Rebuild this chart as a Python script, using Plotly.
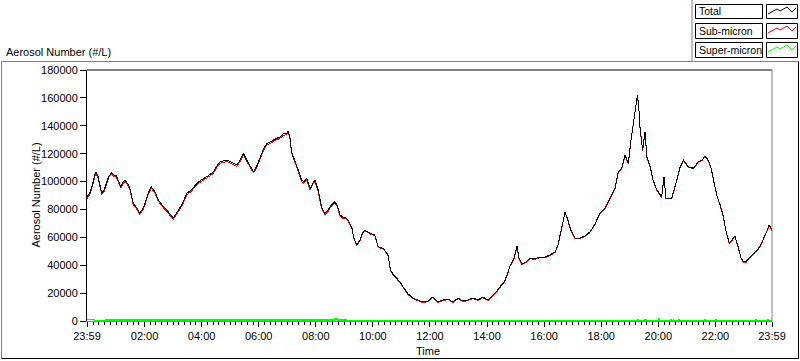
import plotly.graph_objects as go
import pandas as pd

# ---------------- data ----------------
# minutes elapsed since 23:59 of the start day
minutes = [0,6,13,18,23,27,31,36,42,46,
           52,57,61,65,71,76,80,86,90,97,
           105,111,118,122,128,135,143,150,158,168,
           175,181,187,192,200,210,219,231,240,252,
           259,266,273,280,294,303,315,322,329,336,
           343,350,357,364,370,378,385,392,399,406,
           412,420,423,427,430,437,444,451,456,462,
           469,475,479,486,493,500,507,511,521,526,
           532,538,546,551,557,561,567,574,578,584,
           595,605,612,623,629,633,638,644,651,658,
           666,675,685,696,706,717,727,738,748,759,
           769,780,790,801,811,822,832,843,851,860,
           868,877,883,889,898,904,908,914,923,931,
           942,952,963,973,984,990,996,1001,1005,1011,
           1017,1026,1036,1047,1057,1068,1078,1089,1099,1110,
           1117,1124,1131,1138,1143,1147,1152,1157,1160,1162,
           1168,1173,1177,1184,1190,1198,1208,1213,1217,1229,
           1236,1247,1254,1264,1275,1285,1293,1299,1306,1312,
           1318,1324,1331,1337,1343,1350,1356,1362,1369,1375,
           1380,1385,1392,1398,1404,1411,1417,1423,1430,1434,
           1438,1440]

total = [88900,91800,99700,107000,104000,96800,91600,93900,99700,104000,
         106300,104700,104700,101100,96300,99700,101100,98300,95400,84600,
         81000,77400,81000,84600,91100,96300,92700,86800,83200,79600,
         76700,73900,76700,79600,83900,91600,93900,98700,101100,103500,
         105400,107000,111100,114200,115400,114000,111900,115400,120200,115400,
         110600,107000,111100,116700,122600,127400,128300,129800,131200,132100,
         134100,134600,136200,131200,121400,115400,108300,101100,99700,102300,
         95100,98900,101100,93900,82000,77200,79600,82000,85500,83200,
         76000,74600,73600,71000,66500,59500,54500,58100,62400,65200,
         62900,61700,53300,52100,49500,47300,36600,33000,30600,28000,
         23700,19400,16500,15100,13600,14300,17200,13600,15100,15800,
         13600,16500,14300,15100,16500,15100,17200,15100,17900,20800,
         24400,28000,33000,39400,45200,53800,45200,40900,42300,45200,
         44500,45900,45900,47300,49500,54500,63800,71000,78200,72400,
         65200,59500,59500,60900,63800,69500,77400,81000,88000,95100,
         107000,109500,119000,113100,128600,139300,148900,162000,153700,140500,
         122600,135700,117800,110600,101100,93900,89100,103500,88200,88000,
         96300,110600,115400,110600,109500,114200,115400,118300,115400,109700,
         99700,90300,83200,76000,65200,55900,58100,60900,53100,45200,
         42500,42300,45200,47300,49700,51600,55200,59500,65200,68800,
         66000,65200]

sub_micron = [87900,90800,98700,106000,103000,95800,90600,92900,98700,103000,
              105300,103700,103700,100100,95300,98700,100100,97300,94400,83600,
              80000,76400,80000,83600,90100,95300,91700,85800,82200,78600,
              75700,72900,75700,78600,82900,90600,92900,97700,100100,102500,
              104400,106000,110100,113200,114400,113000,110900,114400,119200,114400,
              109600,106000,110100,115700,121600,126400,127300,128800,130200,131100,
              133100,133600,135200,130200,120400,114400,107300,100100,98700,101300,
              94100,97900,100100,92900,81000,76200,78600,81000,84500,82200,
              75000,73600,73200,70600,66100,59100,54100,57700,62000,64800,
              62500,61300,52900,51700,49100,46900,36200,32600,30200,27600,
              23300,19000,16100,14700,13200,13900,16800,13200,14700,15400,
              13200,16100,13900,14700,16100,14700,16800,14700,17500,20400,
              24000,27600,32600,39000,44800,53400,44800,40500,41900,44800,
              44100,45500,45500,46900,49100,54100,63400,70600,77800,72000,
              64800,59100,59100,60500,63400,69100,77000,80600,87600,94700,
              106600,109100,118600,112700,128200,138900,148500,161600,153300,140100,
              122200,135300,117400,110200,100700,93500,88700,103100,87800,87600,
              95900,110200,115000,110200,109100,113800,115000,117900,115000,109300,
              99300,89900,82800,75600,64800,55500,57700,60500,52700,44800,
              42100,41900,44800,46900,49300,51200,54800,59100,64800,68400,
              65600,64800]

super_minutes = [0,16,17,38,39,520,521,526,527,545,546,
                 1158,1159,1160,1171,1172,1173,1175,1176,1177,1202,1203,1204,
                 1227,1228,1229,1232,1233,1234,1244,1245,1246,1299,1300,1301,
                 1321,1322,1323,1406,1407,1408,1431,1432,1433,1440]
super_micron = [1000,1000,100,100,800,800,1400,1400,800,800,200,
                200,1300,200,200,1300,200,200,1300,200,200,2000,200,
                200,1300,200,200,1300,200,200,1300,200,200,1300,200,
                200,1300,200,200,1300,200,200,1600,200,200]

tick_labels = ["23:59", "02:00", "04:00", "06:00", "08:00", "10:00", "12:00",
               "14:00", "16:00", "18:00", "20:00", "22:00", "23:59"]
y_ticks = [0, 20000, 40000, 60000, 80000, 100000, 120000, 140000, 160000, 180000]

series_names = ["Total", "Sub-micron", "Super-micron"]
series_colors = ["#000000", "#ff0000", "#00ff00"]

# ---------------- build ----------------
BASE = pd.Timestamp("2020-01-01 23:59")
def to_time(ms):
    return [BASE + pd.Timedelta(minutes=m) for m in ms]

END = BASE + pd.Timedelta(minutes=1440)
tick_vals = [BASE] + [pd.Timestamp(f"2020-01-02 {h:02d}:00") for h in range(2, 24, 2)] + [END]

FONT = "Liberation Sans, Arial, sans-serif"

fig = go.Figure()
fig.add_trace(go.Scatter(x=to_time(super_minutes), y=super_micron, mode="lines",
                         line=dict(color=series_colors[2], width=1.6), name=series_names[2]))
fig.add_trace(go.Scatter(x=to_time(minutes), y=sub_micron, mode="lines",
                         line=dict(color=series_colors[1], width=1), name=series_names[1]))
fig.add_trace(go.Scatter(x=to_time(minutes), y=total, mode="lines",
                         line=dict(color=series_colors[0], width=1), name=series_names[0]))

W, H = 800, 361
L, R, T, B = 87, 772, 70, 321

def px(x):
    return (x - L) / (R - L)

def py(y):
    return (B - y) / (B - T)

def line(x0, y0, x1, y1, color):
    return dict(type="line", xref="paper", yref="paper",
                x0=px(x0), y0=py(y0), x1=px(x1), y1=py(y1),
                line=dict(color=color, width=1), layer="above")

shapes = [
    # plot box (top black, right gray)
    line(L, T, R, T, "#000000"),
    line(R, T, R, B, "#808080"),
    # outer frame
    line(1.5, 61.5, 798.5, 61.5, "#808080"),
    line(1.5, 61.5, 1.5, 358.5, "#808080"),
    line(798.5, 61.5, 798.5, 358.5, "#000000"),
    line(1.5, 358.5, 798.5, 358.5, "#000000"),
    # legend panel left edge
    line(692, 0, 692, 61, "#808080"),
]

rows = [(4, 18), (23, 38), (42, 57)]
annotations = []
for (y0, y1), name, color in zip(rows, series_names, series_colors):
    shapes.append(dict(type="rect", xref="paper", yref="paper",
                       x0=px(695.5), x1=px(762.5), y0=py(y1 + 0.5), y1=py(y0 + 0.5),
                       line=dict(color="#000000", width=1), fillcolor="white", layer="above"))
    shapes.append(dict(type="rect", xref="paper", yref="paper",
                       x0=px(766.5), x1=px(797.5), y0=py(y1 + 0.5), y1=py(y0 + 0.5),
                       line=dict(color="#000000", width=1), fillcolor="white", layer="above"))
    pts = [(768, y0 + 10), (777, y0 + 5), (780, y0 + 7), (787, y0 + 3), (792, y0 + 8), (796, y0 + 4)]
    path = "M " + " L ".join(f"{px(a)},{py(b)}" for a, b in pts)
    shapes.append(dict(type="path", xref="paper", yref="paper", path=path,
                       line=dict(color=color, width=1), layer="above"))
    annotations.append(dict(text=name, xref="paper", yref="paper", x=px(697), y=py((y0 + y1) / 2 + 0.5),
                            xanchor="left", yanchor="middle", showarrow=False,
                            font=dict(family=FONT, size=10.5, color="#000000")))

annotations += [
    dict(text="Aerosol Number (#/L)", xref="paper", yref="paper", x=px(4), y=py(52),
         xanchor="left", yanchor="middle", showarrow=False,
         font=dict(family=FONT, size=11, color="#000000")),
    dict(text="Aerosol Number (#/L)", xref="paper", yref="paper", x=px(35), y=0.5,
         xanchor="center", yanchor="middle", textangle=-90, showarrow=False,
         font=dict(family=FONT, size=11, color="#000000")),
    dict(text="Time", xref="paper", yref="paper", x=px(428), y=py(351),
         xanchor="center", yanchor="middle", showarrow=False,
         font=dict(family=FONT, size=11, color="#000000")),
]

fig.update_layout(
    width=W, height=H, autosize=False,
    margin=dict(l=L, r=W - R, t=T, b=H - B, pad=0),
    paper_bgcolor="white", plot_bgcolor="white",
    showlegend=False,
    font=dict(family=FONT, size=11, color="#000000"),
    shapes=shapes, annotations=annotations,
    xaxis=dict(type="date", range=[BASE, END], tickmode="array",
               tickvals=tick_vals, ticktext=tick_labels,
               ticks="outside", ticklen=5, tickcolor="#000000", tickwidth=1,
               showline=True, linecolor="#808080", linewidth=1,
               showgrid=False, zeroline=False,
               tickfont=dict(family=FONT, size=11, color="#000000"),
               minor=dict(ticks="outside", ticklen=3, tickcolor="#000000",
                          dtick=12 * 60 * 1000, tick0="2020-01-02 00:00:00",
                          showgrid=False)),
    yaxis=dict(range=[0, 180000], tickmode="array", tickvals=y_ticks,
               ticktext=[str(v) for v in y_ticks],
               ticks="outside", ticklen=6, tickcolor="#000000", tickwidth=1,
               showline=True, linecolor="#000000", linewidth=1,
               showgrid=False, zeroline=False,
               tickfont=dict(family=FONT, size=11, color="#000000")),
)

fig.write_html("out.html", config={"displayModeBar": False, "staticPlot": True},
               post_script=("document.body.style.margin='0';document.body.style.overflow='hidden';"
                            "document.querySelectorAll('.scatterlayer .js-line')"
                            ".forEach(function(e){e.style.shapeRendering='crispEdges';});"))
